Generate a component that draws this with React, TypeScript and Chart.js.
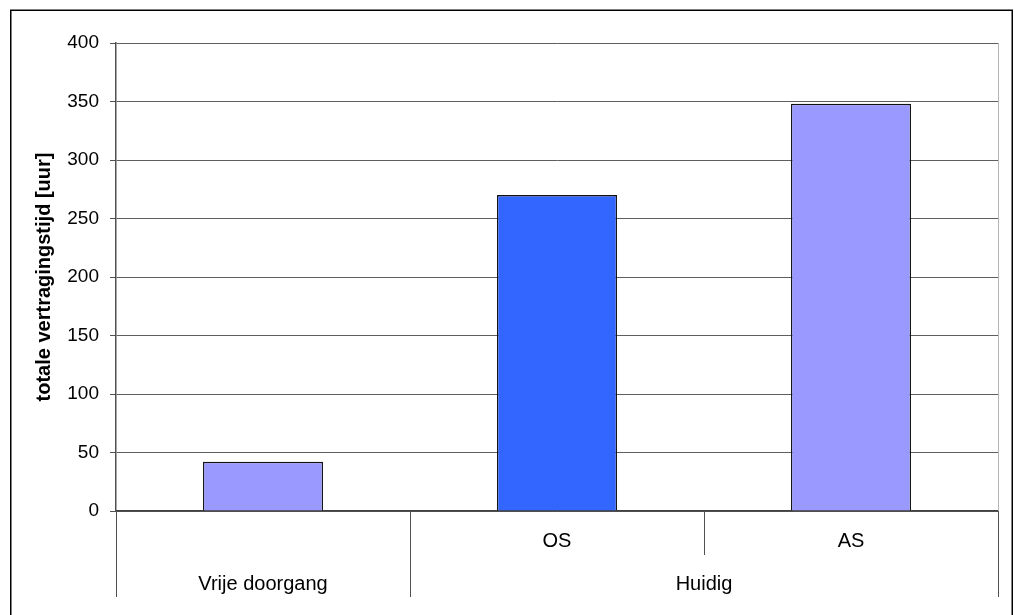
import React, { useEffect, useRef } from 'react';
import { Chart, registerables } from 'chart.js';

Chart.register(...registerables);

// Lower category level (one entry per bar) and the values drawn above it
const categories = ['', 'OS', 'AS'];
const values = [42, 270, 348];
const barColors = ['#9999FF', '#3366FF', '#9999FF'];

// Upper category level: each group spans categories first..last
const groupLabels = ['Vrije doorgang', 'Huidig'];
const groupFirst = [0, 1];
const groupLast = [0, 2];

// Value axis
const yMin = 0;
const yMax = 400;
const yStep = 50;
const yTitle = 'totale vertragingstijd [uur]';

const FONT = '"Liberation Sans", Arial, Helvetica, sans-serif';

// Draws the white page, the outer frame, the plot-area right edge and the
// two-level category separators with the group names.
const framePlugin = {
  id: 'frame',
  beforeDraw(chart: any) {
    const { ctx, width, height } = chart;
    ctx.save();
    ctx.fillStyle = '#ffffff';
    ctx.fillRect(0, 0, width, height);
    ctx.restore();
  },
  afterDraw(chart: any) {
    const { ctx, chartArea: a } = chart;
    const x = chart.scales.x;
    ctx.save();

    // right edge of the plot area
    ctx.strokeStyle = '#b4b4b4';
    ctx.lineWidth = 1;
    ctx.beginPath();
    ctx.moveTo(Math.round(a.right) + 0.5, a.top);
    ctx.lineTo(Math.round(a.right) + 0.5, a.bottom);
    ctx.stroke();

    // separators between categories (short) and groups (full depth)
    const shortBottom = a.bottom + 44;
    const fullBottom = a.bottom + 86;
    ctx.strokeStyle = '#505050';
    ctx.lineWidth = 1;
    for (let i = 0; i <= categories.length; i++) {
      const px = Math.round(x.getPixelForValue(i - 0.5)) + 0.5;
      const groupEdge = groupFirst.includes(i) || i === categories.length;
      ctx.beginPath();
      ctx.moveTo(px, a.bottom);
      ctx.lineTo(px, groupEdge ? fullBottom : shortBottom);
      ctx.stroke();
    }

    // group names
    ctx.fillStyle = '#000000';
    ctx.font = `20px ${FONT}`;
    ctx.textAlign = 'center';
    ctx.textBaseline = 'alphabetic';
    groupLabels.forEach((g, k) => {
      const cx = x.getPixelForValue((groupFirst[k] + groupLast[k]) / 2);
      ctx.fillText(g, cx, a.bottom + 79);
    });

    // outer frame
    ctx.strokeStyle = '#000000';
    ctx.lineWidth = 1.5;
    ctx.strokeRect(10.75, 10.25, 1001.5, 700);
    ctx.restore();
  },
};

export default function App() {
  const canvasRef = useRef<HTMLCanvasElement | null>(null);

  useEffect(() => {
    const canvas = canvasRef.current;
    if (!canvas) return;

    const chart = new Chart(canvas, {
      type: 'bar',
      data: {
        labels: categories,
        datasets: [
          {
            data: values,
            backgroundColor: barColors,
            borderColor: '#111111',
            borderWidth: 1.3,
            barPercentage: 0.408,
            categoryPercentage: 1,
          },
        ],
      },
      options: {
        responsive: false,
        animation: false,
        events: [],
        layout: { padding: { top: 43, right: 17, left: 0, bottom: 0 } },
        plugins: {
          legend: { display: false },
          tooltip: { enabled: false },
          title: { display: false },
        },
        scales: {
          x: {
            type: 'category',
            grid: { display: false, drawTicks: false },
            border: { display: true, color: '#404040', width: 1.5 },
            ticks: {
              color: '#000000',
              font: { family: FONT, size: 20 },
              padding: 18,
              maxRotation: 0,
              autoSkip: false,
            },
            afterFit(scale: any) {
              scale.height = 104;
            },
          },
          y: {
            type: 'linear',
            min: yMin,
            max: yMax,
            ticks: {
              stepSize: yStep,
              color: '#000000',
              font: { family: FONT, size: 19 },
              padding: 11,
            },
            grid: {
              color: '#5e5e5e',
              lineWidth: 1,
              drawTicks: true,
              tickLength: 6,
              tickColor: '#505050',
            },
            border: { display: true, color: '#505050', width: 1.5 },
            title: {
              display: true,
              text: yTitle,
              color: '#000000',
              font: { family: FONT, size: 20, weight: 'bold' },
              padding: { top: 32, bottom: 0 },
            },
            afterFit(scale: any) {
              scale.width = 116;
            },
          },
        },
      },
      plugins: [framePlugin],
    });

    return () => chart.destroy();
  }, []);

  return (
    <div style={{ position: 'absolute', left: 0, top: 0, width: 1015, height: 615, background: '#fff' }}>
      <canvas ref={canvasRef} width={1015} height={615} style={{ display: 'block' }} />
    </div>
  );
}
